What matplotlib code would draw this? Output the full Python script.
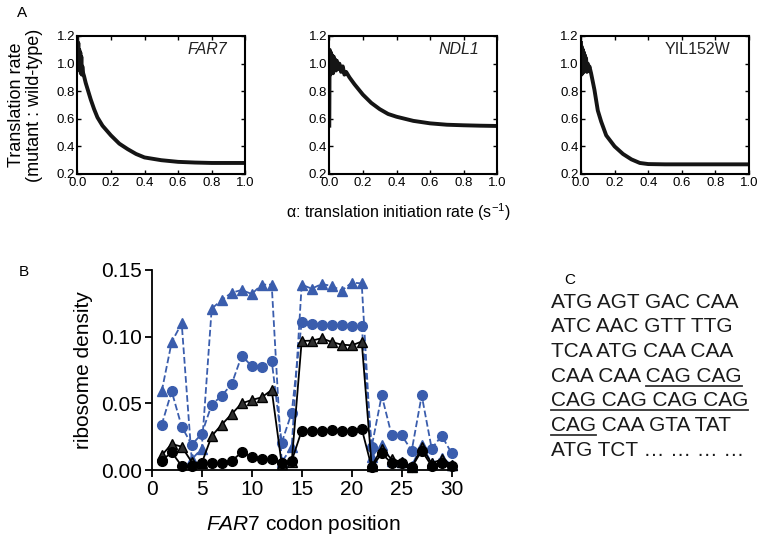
import matplotlib
matplotlib.use("Agg")
import matplotlib.pyplot as plt
import numpy as np

plt.rcParams["font.family"] = ["Liberation Sans", "DejaVu Sans"]
plt.rcParams["mathtext.fontset"] = "custom"
plt.rcParams["mathtext.rm"] = "Liberation Sans"
plt.rcParams["mathtext.it"] = "Liberation Sans:italic"

# panel A: translation rate ratio vs initiation rate
far7_x = [0.000, 0.003, 0.006, 0.009, 0.012, 0.015, 0.018, 0.021, 0.024, 0.027, 0.030, 0.035,
          0.040, 0.050, 0.060, 0.080, 0.100, 0.120, 0.150, 0.200, 0.250, 0.300, 0.350, 0.400,
          0.500, 0.600, 0.700, 0.800, 0.900, 1.000]
far7_y = [1.18, 0.98, 1.15, 0.96, 1.10, 0.95, 1.08, 0.93, 1.05, 0.92, 0.98, 0.93,
          0.91, 0.86, 0.82, 0.74, 0.67, 0.61, 0.55, 0.48, 0.42, 0.38, 0.345, 0.32,
          0.30, 0.288, 0.283, 0.28, 0.28, 0.28]

ndl1_x = [0.000, 0.002, 0.006, 0.010, 0.014, 0.018, 0.022, 0.026, 0.030, 0.035, 0.040, 0.045,
          0.050, 0.060, 0.070, 0.080, 0.090, 0.100, 0.120, 0.150, 0.200, 0.250, 0.300, 0.350,
          0.400, 0.500, 0.600, 0.700, 0.800, 0.900, 1.000]
ndl1_y = [0.55, 1.10, 0.92, 1.08, 0.94, 1.06, 0.93, 1.05, 0.95, 1.03, 0.95, 1.02,
          0.96, 1.00, 0.94, 0.98, 0.92, 0.94, 0.90, 0.85, 0.775, 0.715, 0.67, 0.635,
          0.615, 0.585, 0.567, 0.557, 0.553, 0.55, 0.548]

yil_x = [0.000, 0.003, 0.006, 0.009, 0.012, 0.015, 0.018, 0.021, 0.024, 0.027, 0.030, 0.035,
         0.040, 0.045, 0.050, 0.060, 0.070, 0.080, 0.100, 0.120, 0.150, 0.200, 0.250, 0.300,
         0.350, 0.400, 0.500, 0.600, 0.800, 1.000]
yil_y = [1.15, 0.92, 1.12, 0.93, 1.10, 0.94, 1.08, 0.95, 1.06, 0.95, 1.04, 0.94,
         1.00, 0.95, 0.98, 0.93, 0.87, 0.81, 0.66, 0.58, 0.48, 0.40, 0.345, 0.306,
         0.28, 0.272, 0.27, 0.27, 0.27, 0.27]

genes = ["FAR7", "NDL1", "YIL152W"]
gene_italic = [True, True, False]

# panel B: ribosome density per codon
codons = np.arange(1, 31)
blue_tri = [0.059, 0.096, 0.110, 0.008, 0.016, 0.121, 0.1275, 0.133, 0.135, 0.132,
            0.139, 0.139, 0.006, 0.017, 0.139, 0.136, 0.1395, 0.138, 0.1345, 0.1405,
            0.140, 0.010, 0.019, 0.007, 0.006, 0.003, 0.019, 0.005, 0.009, 0.004]
blue_circ = [0.034, 0.059, 0.0325, 0.019, 0.027, 0.049, 0.0557, 0.0645, 0.0857, 0.078,
             0.077, 0.082, 0.0205, 0.043, 0.111, 0.1095, 0.109, 0.109, 0.1085, 0.108,
             0.108, 0.0175, 0.056, 0.026, 0.026, 0.0145, 0.056, 0.016, 0.0257, 0.0125]
black_tri = [0.011, 0.0195, 0.0175, 0.006, 0.005, 0.0255, 0.034, 0.042, 0.050, 0.0525,
             0.0545, 0.060, 0.0045, 0.006, 0.0968, 0.097, 0.0988, 0.096, 0.094, 0.0935,
             0.0963, 0.003, 0.016, 0.008, 0.006, 0.002, 0.017, 0.005, 0.008, 0.004]
black_circ = [0.007, 0.0133, 0.003, 0.003, 0.0055, 0.005, 0.005, 0.0068, 0.0133, 0.010,
              0.0083, 0.0083, 0.005, 0.0068, 0.0295, 0.0295, 0.0295, 0.030, 0.029, 0.0295,
              0.031, 0.002, 0.0125, 0.005, 0.005, 0.002, 0.0145, 0.003, 0.005, 0.003]

# panel C: sequence
seq_lines = ["ATG AGT GAC CAA", "ATC AAC GTT TTG", "TCA ATG CAA CAA",
             "CAA CAA CAG CAG", "CAG CAG CAG CAG", "CAG CAA GTA TAT",
             "ATG TCT \u2026 \u2026 \u2026 \u2026"]
underlined = ["", "", "", "CAG CAG", "CAG CAG CAG CAG", "CAG", ""]

W, H = 761, 537
fig = plt.figure(figsize=(W / 100, H / 100), dpi=100)

blue = "#3a5dad"

# ---- panel A
lefts = [77.3, 329.3, 581]
curves = [(far7_x, far7_y), (ndl1_x, ndl1_y), (yil_x, yil_y)]
for i, left in enumerate(lefts):
    ax = fig.add_axes([left / W, 1 - 174 / H, 168 / W, 138 / H])
    ax.plot(curves[i][0], curves[i][1], color="#151515", lw=2.8, solid_joinstyle="round")
    ax.set_xlim(0, 1)
    ax.set_ylim(0.2, 1.2)
    ax.set_xticks(np.arange(0, 1.01, 0.2))
    ax.set_yticks(np.arange(0.2, 1.21, 0.2))
    ax.xaxis.set_major_formatter(matplotlib.ticker.FormatStrFormatter("%.1f"))
    ax.yaxis.set_major_formatter(matplotlib.ticker.FormatStrFormatter("%.1f"))
    ax.tick_params(direction="in", top=True, right=True, length=3, width=1,
                   labelsize=9.5)
    ax.tick_params(axis="y", pad=1.5)
    ax.tick_params(axis="x", pad=2.5)
    for s in ax.spines.values():
        s.set_linewidth(1.5)
    ax.text(0.89, 0.9, genes[i], transform=ax.transAxes, ha="right", va="center",
            fontsize=11.5, style="italic" if gene_italic[i] else "normal", color="#222222")
    if i == 0:
        ax.set_ylabel("Translation rate\n(mutant : wild-type)", fontsize=13, labelpad=10,
                      linespacing=1.1)

fig.text(398 / W, 1 - 212 / H, "\u03b1: translation initiation rate (s$^{\\mathregular{-1}}$)",
         ha="center", va="center", fontsize=11.5)
fig.text(22 / W, 1 - 13 / H, "A", ha="center", va="center", fontsize=11)

# ---- panel B
axb = fig.add_axes([151.7 / W, 1 - 470 / H, 304 / W, 200 / H])
axb.plot(codons, blue_tri, ls="--", color=blue, lw=1.3, marker="^", ms=7.5,
         mfc=blue, mec=blue, zorder=2)
axb.plot(codons, blue_circ, ls="--", color=blue, lw=1.3, marker="o", ms=7,
         mfc=blue, mec=blue, zorder=2)
axb.plot(codons, black_tri, ls="-", color="black", lw=1.3, marker="^", ms=7.5,
         mfc="#2e2e2e", mec="black", zorder=3)
axb.plot(codons, black_circ, ls="-", color="black", lw=1.3, marker="o", ms=7,
         mfc="black", mec="black", zorder=3)
axb.set_xlim(0, 30.4)
axb.set_ylim(0, 0.15)
axb.set_xticks(np.arange(0, 31, 5))
axb.set_yticks([0, 0.05, 0.10, 0.15])
axb.yaxis.set_major_formatter(matplotlib.ticker.FormatStrFormatter("%.2f"))
axb.spines["top"].set_visible(False)
axb.spines["right"].set_visible(False)
for s in ["left", "bottom"]:
    axb.spines[s].set_linewidth(1.3)
axb.tick_params(direction="out", length=5, width=1.3, labelsize=15, pad=2)
for c in axb.lines:
    c.set_clip_on(False)
axb.set_ylabel("ribosome density", fontsize=15, labelpad=6)
axb.set_xlabel("$\\mathit{FAR7}$ codon position", fontsize=15, labelpad=10)
fig.text(24 / W, 1 - 272 / H, "B", ha="center", va="center", fontsize=11)

# ---- panel C
fig.text(570 / W, 1 - 280 / H, "C", ha="center", va="center", fontsize=11)
renderer = fig.canvas.get_renderer()
x0 = 551
for k, line in enumerate(seq_lines):
    yc = 302 + k * 24.7
    t = fig.text(x0 / W, 1 - yc / H, line, ha="left", va="center", fontsize=15,
                 color="#1a1a1a")
    if underlined[k]:
        full = t.get_window_extent(renderer)
        tmp = fig.text(0, 0, underlined[k], fontsize=15)
        w_under = tmp.get_window_extent(renderer).width
        tmp.remove()
        if line.startswith(underlined[k]):
            xs, xe = full.x0, full.x0 + w_under
        else:
            xs, xe = full.x1 - w_under, full.x1
        yb = 1 - (yc + 9.5) / H
        fig.add_artist(plt.Line2D([xs / W, xe / W], [yb, yb], color="#333333", lw=1.3,
                                  transform=fig.transFigure))

fig.savefig("out.png", dpi=100)
